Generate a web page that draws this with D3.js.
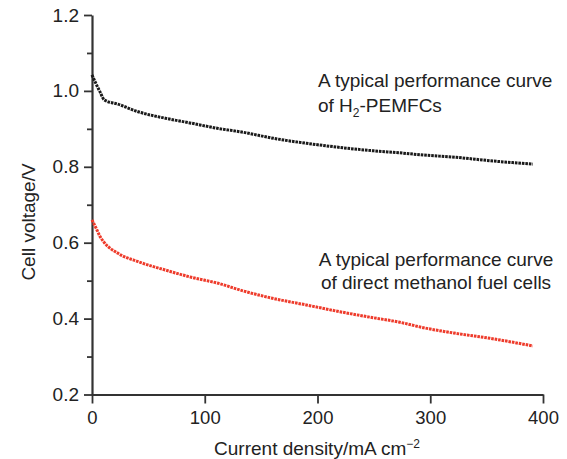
<!DOCTYPE html>
<html>
<head>
<meta charset="utf-8">
<script src="https://cdn.jsdelivr.net/npm/d3@7"></script>
<style>
  html, body { margin: 0; padding: 0; background: #fff; }
  svg { display: block; font-family: "Liberation Sans", Arial, Helvetica, sans-serif; }
</style>
</head>
<body>
<svg id="chart" width="567" height="459"></svg>
<script>
// ---- data ----
const currentDensity = [0, 4, 7, 11, 23, 41, 65, 88, 112, 134, 161, 190, 220, 250, 272, 294, 323, 353, 391];
const pemfcVoltage   = [1.042, 1.016, 0.998, 0.976, 0.965, 0.945, 0.928, 0.915, 0.901, 0.891, 0.875, 0.862, 0.851, 0.842, 0.837, 0.831, 0.825, 0.816, 0.807];
const dmfcVoltage    = [0.660, 0.636, 0.617, 0.600, 0.572, 0.550, 0.528, 0.509, 0.493, 0.473, 0.453, 0.436, 0.418, 0.402, 0.391, 0.376, 0.361, 0.348, 0.328];
const xTicks = [0, 100, 200, 300, 400];
const yTicks = [0.2, 0.4, 0.6, 0.8, 1.0, 1.2];
const yMinorTicks = [0.3, 0.5, 0.7, 0.9, 1.1];
const xTitle = "Current density/mA cm";
const yTitle = "Cell voltage/V";

// ---- layout ----
const svg = d3.select("#chart");
const x = d3.scaleLinear().domain([0, 400]).range([92, 543]);
const y = d3.scaleLinear().domain([0.2, 1.2]).range([394.5, 15]);

const axisColor = "#333";
const textColor = "#222";

// minor y ticks
svg.append("g")
  .attr("transform", "translate(92,0)")
  .call(d3.axisLeft(y).tickValues(yMinorTicks).tickSize(5).tickFormat(""))
  .call(g => g.select(".domain").remove())
  .call(g => g.selectAll("line").attr("stroke", axisColor).attr("stroke-width", 1.8));

// y axis
const gy = svg.append("g")
  .attr("transform", "translate(92,0)")
  .call(d3.axisLeft(y).tickValues(yTicks).tickSize(8).tickSizeOuter(0).tickPadding(5)
    .tickFormat(d3.format(".1f")));
gy.select(".domain").attr("stroke", axisColor).attr("stroke-width", 2.2);
gy.selectAll("line").attr("stroke", axisColor).attr("stroke-width", 1.8);
gy.selectAll("text").attr("fill", textColor).style("font-size", "19px");

// x axis
const gx = svg.append("g")
  .attr("transform", "translate(0,394.5)")
  .call(d3.axisBottom(x).tickValues(xTicks).tickSize(9).tickSizeOuter(0).tickPadding(7)
    .tickFormat(d3.format("d")));
gx.select(".domain").attr("stroke", axisColor).attr("stroke-width", 2.2);
gx.selectAll("line").attr("stroke", axisColor).attr("stroke-width", 1.8);
gx.selectAll("text").attr("fill", textColor).style("font-size", "18.5px");

// curves
const line = d3.line().x(d => x(d[0])).y(d => y(d[1])).curve(d3.curveMonotoneX);
svg.append("path")
  .datum(currentDensity.map((c, i) => [c, pemfcVoltage[i]]))
  .attr("d", line)
  .attr("fill", "none")
  .attr("stroke", "#1a1a1a")
  .attr("stroke-width", 3)
  .attr("stroke-dasharray", "2.6,0.9");
svg.append("path")
  .datum(currentDensity.map((c, i) => [c, dmfcVoltage[i]]))
  .attr("d", line)
  .attr("fill", "none")
  .attr("stroke", "#ee3b2b")
  .attr("stroke-width", 3)
  .attr("stroke-dasharray", "2.6,0.9");

// axis titles
const xt = svg.append("text")
  .attr("x", 317).attr("y", 455)
  .attr("text-anchor", "middle")
  .attr("fill", textColor)
  .style("font-size", "19px");
xt.append("tspan").text(xTitle);
xt.append("tspan").text("\u22122").attr("dy", -7).style("font-size", "12px");

svg.append("text")
  .attr("transform", "translate(35,222) rotate(-90)")
  .attr("text-anchor", "middle")
  .attr("fill", textColor)
  .style("font-size", "19px")
  .text(yTitle);

// annotations
const a1 = svg.append("g").attr("fill", textColor).style("font-size", "19px");
a1.append("text").attr("x", 318).attr("y", 87).text("A typical performance curve");
const l2 = a1.append("text").attr("x", 318).attr("y", 111.5);
l2.append("tspan").text("of H");
l2.append("tspan").text("2").attr("dy", 5).style("font-size", "12px");
l2.append("tspan").text("-PEMFCs").attr("dy", -5);

const a2 = svg.append("g").attr("fill", textColor).style("font-size", "19px").attr("text-anchor", "middle");
a2.append("text").attr("x", 436).attr("y", 265.5).text("A typical performance curve");
a2.append("text").attr("x", 436).attr("y", 289).text("of direct methanol fuel cells");
</script>
</body>
</html>
